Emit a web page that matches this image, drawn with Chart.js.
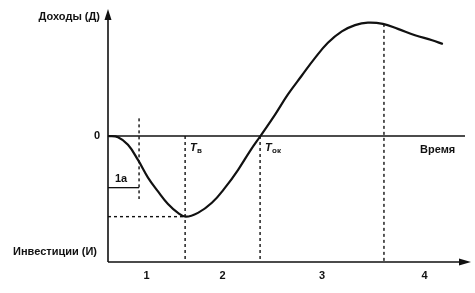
<!DOCTYPE html>
<html>
<head>
<meta charset="utf-8">
<script src="https://cdn.jsdelivr.net/npm/chart.js@4"></script>
<style>
  html, body { margin: 0; padding: 0; background: #fff; }
  #wrap { width: 475px; height: 293px; }
</style>
</head>
<body>
<div id="wrap"><canvas id="grafico"></canvas></div>
<script>
// кривая денежного потока (доходы / инвестиции во времени)
const tiempo = [0, 0.28, 0.56, 0.84, 1.12, 1.4, 1.68, 1.96, 2.18, 2.52, 2.91, 3.28, 3.64, 4.0, 4.27,
                4.68, 5.04, 5.43, 5.8, 6.16, 6.55, 6.92, 7.28, 7.7, 8.12, 8.6, 9.08, 9.38];
const flujo  = [0, -0.01, -0.07, -0.19, -0.33, -0.44, -0.54, -0.61, -0.64, -0.61, -0.53, -0.41, -0.27, -0.11, 0,
                0.17, 0.33, 0.48, 0.62, 0.74, 0.83, 0.88, 0.9, 0.89, 0.85, 0.8, 0.76, 0.73];

// границы этапов: 1а, Тв (минимум), Ток (окупаемость), максимум
const limites = [0.87, 2.16, 4.26, 7.73];
const minimo = -0.64;
const maximo = 0.89;
const nivel1a = -0.41;
const etapas = ['1', '2', '3', '4'];

const negro = '#111';

const trazos = [
  { data: [{ x: limites[0], y: 0.14 }, { x: limites[0], y: -0.5 }], dash: [3, 3] },
  { data: [{ x: 0, y: nivel1a }, { x: limites[0], y: nivel1a }], dash: [] },
  { data: [{ x: 0, y: minimo }, { x: limites[1], y: minimo }], dash: [3, 3] },
  { data: [{ x: limites[1], y: 0 }, { x: limites[1], y: -1 }], dash: [3, 3] },
  { data: [{ x: limites[2], y: 0 }, { x: limites[2], y: -1 }], dash: [3, 3] },
  { data: [{ x: limites[3], y: maximo }, { x: limites[3], y: -1 }], dash: [3, 3] },
  { data: [{ x: 0, y: 0 }, { x: 10, y: 0 }], dash: [] }
];

const datasets = [{
  data: tiempo.map((t, i) => ({ x: t, y: flujo[i] })),
  borderColor: negro,
  borderWidth: 2.2,
  tension: 0.4,
  pointRadius: 0,
  fill: false
}];
trazos.forEach(tr => datasets.push({
  data: tr.data,
  borderColor: negro,
  borderWidth: tr.dash.length ? 1.4 : 1.3,
  borderDash: tr.dash,
  pointRadius: 0,
  fill: false
}));

const ejes = {
  id: 'ejes',
  afterDatasetsDraw(chart) {
    const { ctx, scales: { x, y } } = chart;
    const x0 = x.getPixelForValue(0);
    const yb = y.getPixelForValue(-1);
    const yt = y.getPixelForValue(1);
    const xr = x.getPixelForValue(10);
    ctx.save();
    ctx.strokeStyle = negro;
    ctx.fillStyle = negro;
    ctx.lineWidth = 1.6;
    ctx.beginPath();
    ctx.moveTo(x0, yb);
    ctx.lineTo(x0, yt + 8);
    ctx.moveTo(x0, yb);
    ctx.lineTo(xr, yb);
    ctx.stroke();
    // стрелки
    ctx.beginPath();
    ctx.moveTo(x0, yt - 1);
    ctx.lineTo(x0 - 3.5, yt + 10);
    ctx.lineTo(x0 + 3.5, yt + 10);
    ctx.closePath();
    ctx.fill();
    ctx.beginPath();
    ctx.moveTo(xr + 6, yb);
    ctx.lineTo(xr - 6, yb - 3.5);
    ctx.lineTo(xr - 6, yb + 3.5);
    ctx.closePath();
    ctx.fill();

    ctx.font = 'bold 11px "Liberation Sans", Arial, sans-serif';
    ctx.textBaseline = 'middle';
    ctx.textAlign = 'right';
    ctx.fillText('Доходы (Д)', x0 - 8, yt + 7);
    ctx.fillText('0', x0 - 8, y.getPixelForValue(0));
    ctx.fillText('Инвестиции (И)', x0 - 11, y.getPixelForValue(-0.92));
    ctx.textAlign = 'left';
    ctx.fillText('Время', xr - 45, y.getPixelForValue(0) + 14);
    ctx.fillText('1а', x0 + 7, y.getPixelForValue(nivel1a) - 9);

    // номера этапов
    ctx.textAlign = 'center';
    const bordes = [0, limites[1], limites[2], limites[3], 10];
    etapas.forEach((e, i) => {
      const c = (bordes[i] + bordes[i + 1]) / 2;
      ctx.fillText(e, x.getPixelForValue(c), yb + 14);
    });

    // Тв и Ток
    const etiquetaT = (xv, sub) => {
      const px = x.getPixelForValue(xv) + 5;
      const py = y.getPixelForValue(0) + 12;
      ctx.textAlign = 'left';
      ctx.font = 'italic bold 11px "Liberation Sans", Arial, sans-serif';
      ctx.fillText('T', px, py);
      ctx.font = 'bold 8px "Liberation Sans", Arial, sans-serif';
      ctx.fillText(sub, px + 7, py + 3);
    };
    etiquetaT(limites[1], 'в');
    etiquetaT(limites[2], 'ок');
    ctx.restore();
  }
};

new Chart(document.getElementById('grafico'), {
  type: 'line',
  data: { datasets },
  options: {
    responsive: true,
    maintainAspectRatio: false,
    animation: false,
    clip: false,
    layout: { padding: { left: 108, right: 10, top: 10, bottom: 31 } },
    plugins: {
      legend: { display: false },
      tooltip: { enabled: false }
    },
    scales: {
      x: { type: 'linear', min: 0, max: 10, display: false },
      y: { min: -1, max: 1, display: false }
    }
  },
  plugins: [ejes]
});
</script>
</body>
</html>
